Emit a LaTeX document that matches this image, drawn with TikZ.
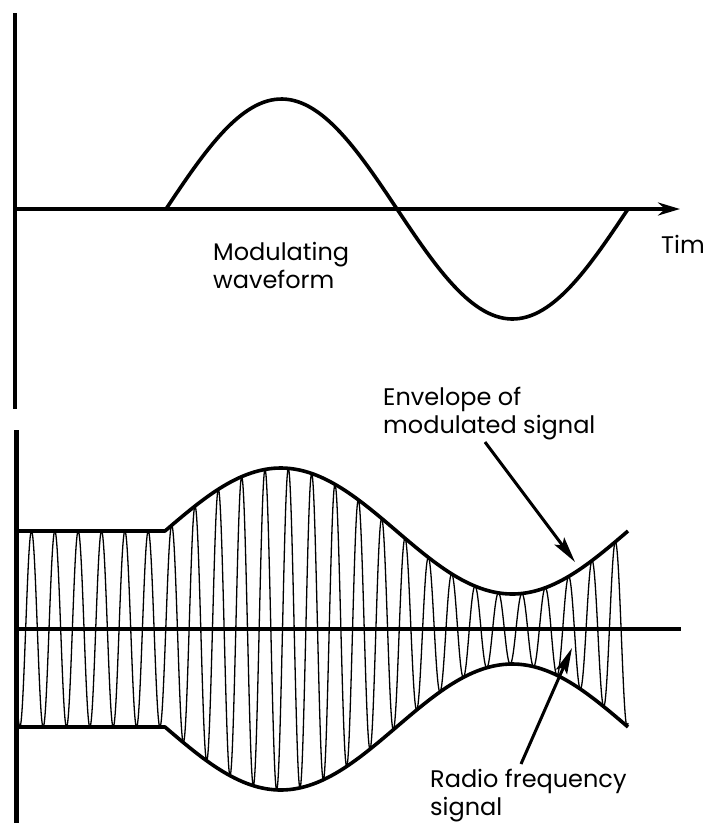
\documentclass[tikz,border=0pt]{standalone}
\usepackage{fontspec}
\setmainfont{Poppins}
\usetikzlibrary{arrows.meta}

\tikzset{
  axisline/.style={line width=4.5pt},
  envline/.style={line width=3.6pt, line join=round},
  carrier/.style={line width=1.3pt},
  labeltext/.style={inner sep=0pt, anchor=base west, align=left, font=\fontsize{24}{28}\selectfont},
  pointer/.style={line width=3pt, -{Stealth[length=26pt, width=12pt, inset=5pt]}},
  declare function={envamp(\x)=(\x<165)?98:(98+63*sin((\x-165)/231.5*180));}
}

\begin{document}
\begin{tikzpicture}[x=1pt, y=-1pt]
\useasboundingbox (0,0) rectangle (704,823);

% modulating waveform
\draw[line width=3.5pt] (15,13) -- (15,409);
\draw[axisline, -{Stealth[length=22pt, width=13pt]}] (15,209) -- (680,209);
\draw[envline] plot[domain=166:628, samples=120] (\x, {209 - 110*sin((\x-166)/462*360)});

\node[labeltext] (modlabel) at (213,288) {Modulating\\waveform};
\node[labeltext] (timelabel) at (661,253) {Tim};

% modulated signal
\draw[line width=5pt] (16,430) -- (16,823);
\draw[carrier] plot[domain=15:628, samples=1500] (\x, {629 - envamp(\x)*cos((\x-31.5)/23.35*360)});
\draw[axisline] (15,629) -- (681,629);
\draw[envline] (15,{629-98}) -- (165,{629-98}) -- plot[domain=165:628, samples=120] (\x, {629 - envamp(\x)});
\draw[envline] (15,{629+98}) -- (165,{629+98}) -- plot[domain=165:628, samples=120] (\x, {629 + envamp(\x)});

\node[labeltext] (envlabel) at (383,433) {Envelope of\\modulated signal};
\node[labeltext] (rflabel) at (430,815) {Radio frequency\\signal};

\coordinate (envtail) at (485,442);
\coordinate (envtip) at (575,562);
\draw[pointer] (envtail) -- (envtip);

\coordinate (rftail) at (521,764);
\coordinate (rftip) at (572,648);
\draw[pointer] (rftail) -- (rftip);
\end{tikzpicture}
\end{document}
